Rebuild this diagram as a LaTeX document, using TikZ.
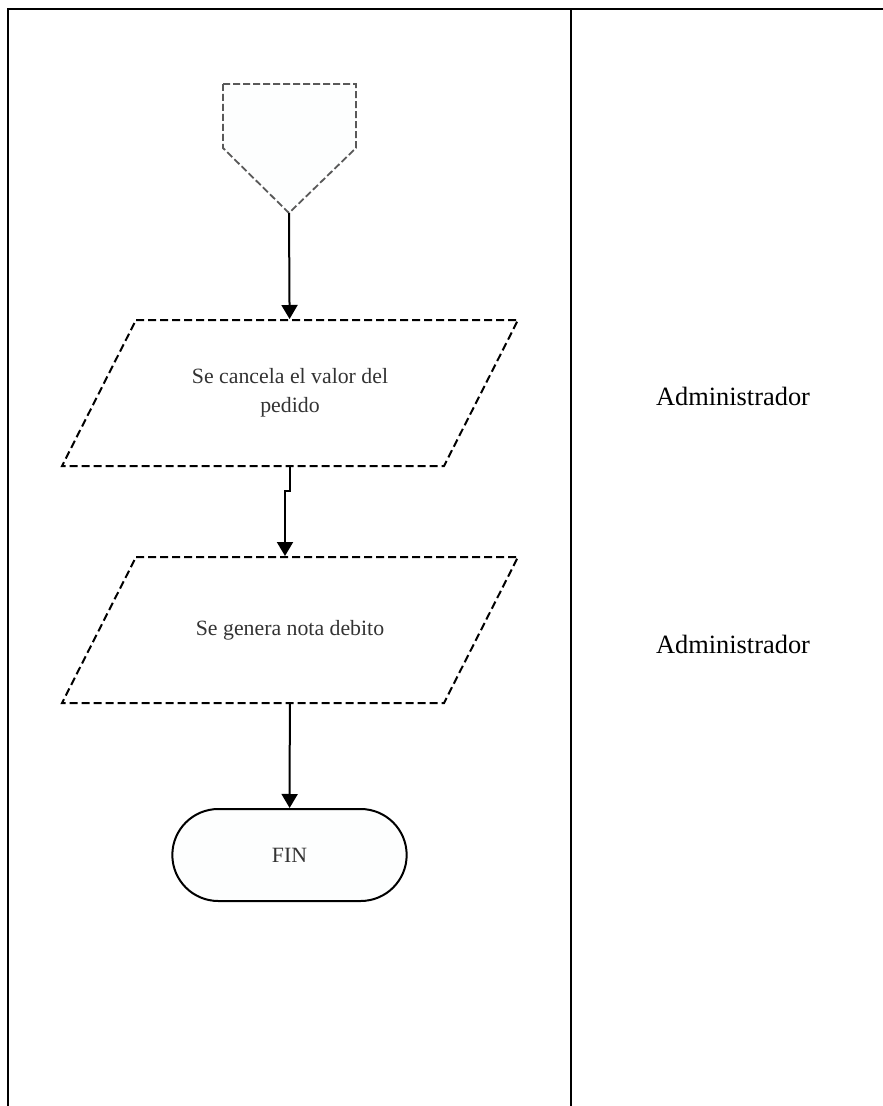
\documentclass[tikz,border=0pt]{standalone}
\usepackage{fontspec}
\setmainfont{Liberation Serif}
\usetikzlibrary{shapes.misc, arrows.meta, positioning, calc}
\definecolor{nearwhite}{RGB}{253,254,254}

\begin{document}
\begin{tikzpicture}[
  x=1pt, y=-1pt,
  lane/.style={line width=2pt},
  connector/.style={draw=black!65, line width=1.8pt, dash pattern=on 7pt off 3pt, fill=nearwhite},
  iobox/.style={minimum width=380pt, minimum height=146pt, outer sep=1pt, text=black!80, align=center, font=\fontsize{21.8}{29}\selectfont},
  ioedge/.style={line width=2pt, dash pattern=on 8pt off 4pt},
  terminal/.style={draw, rounded rectangle, minimum width=241pt, minimum height=92pt, line width=2pt, fill=nearwhite, text=black!80, font=\fontsize{21.8}{26}\selectfont},
  flow/.style={line width=2pt, -{Triangle[width=16pt,length=14pt]}},
  role/.style={font=\fontsize{26.4}{30}\selectfont}
]
  \useasboundingbox (0,0) rectangle (883,1106);

  % Lanes
  \draw[lane] (8,1106) -- (8,9) -- (883,9);
  \draw[lane] (571,9) -- (571,1106);

  % Off-page connector
  \draw[connector] (223,84) -- (356,84) -- (356,148) -- (289,213) -- (223,148) -- cycle;
  \coordinate (offpage) at (289,213);

  % Steps
  \node[iobox] (cancel) at (290,393) {Se cancela el valor del\\pedido};
  \node[iobox] (debit) at (290,630) {Se genera nota debito};
  \node[terminal] (fin) at (289.5,855) {FIN};

  % Parallelogram outlines
  \draw[ioedge] ($(cancel.north west)+(37,1)$) -- ($(cancel.north east)+(37,1)$) -- ($(cancel.south east)+(-37,-1)$) -- ($(cancel.south west)+(-37,-1)$) -- cycle;
  \draw[ioedge] ($(debit.north west)+(37,1)$) -- ($(debit.north east)+(37,1)$) -- ($(debit.south east)+(-37,-1)$) -- ($(debit.south west)+(-37,-1)$) -- cycle;

  % Roles
  \node[role] (role1) at (733,396) {Administrador};
  \node[role] (role2) at (733,644) {Administrador};

  % Arrows
  \draw[flow] (offpage) -- (cancel);
  \draw[flow] (cancel.south) -- ++(0,24) -| ($(debit.north)+(-5,0)$);
  \draw[flow] (debit) -- (fin);

\end{tikzpicture}
\end{document}
